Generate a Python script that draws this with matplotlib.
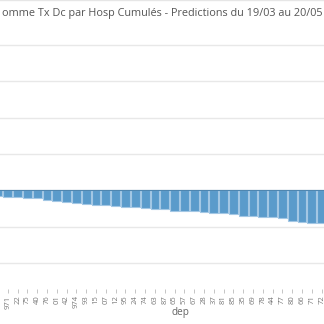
import matplotlib
matplotlib.use("Agg")
import matplotlib.pyplot as plt

# departements shown (chart is scrolled, first and last are cut)
deps = ["56", "971", "22", "75", "40", "76", "01", "42", "974", "93", "15", "07",
        "12", "95", "24", "74", "63", "87", "65", "57", "67", "28", "37", "81",
        "85", "35", "69", "78", "44", "77", "80", "66", "71", "72"]
values = [-0.014, -0.018, -0.018, -0.020, -0.021, -0.027, -0.030, -0.032, -0.035,
          -0.038, -0.040, -0.041, -0.043, -0.045, -0.046, -0.049, -0.051, -0.051,
          -0.055, -0.057, -0.057, -0.058, -0.062, -0.062, -0.065, -0.070, -0.070,
          -0.074, -0.074, -0.075, -0.083, -0.085, -0.088, -0.088]
grid_ticks = [-0.2, -0.1, 0.0, 0.1, 0.2, 0.3, 0.4]

title = "omme Tx Dc par Hosp Cumulés - Predictions du 19/03 au 20/05"

fig = plt.figure(figsize=(3.24, 3.24), dpi=100)
# axes goes past the figure edges: the visual is scrolled
ax = fig.add_axes([-0.0365, 0.108, 1.0747, 0.777])

x = list(range(len(deps)))
ax.bar(x, values, width=0.9, color="#5a9bcb", edgecolor="#a3c7e4", linewidth=0.8, zorder=3)
ax.axhline(0, color="#4f86b0", linewidth=0.8, zorder=4)

ax.set_xlim(-1, 34.5)
ax.set_ylim(-0.27, 0.42)
ax.set_yticks(grid_ticks)
ax.yaxis.grid(True, color="#e8e8e8", linewidth=1.0, zorder=0)
ax.tick_params(axis="y", left=False, labelleft=False)

ax.set_xticks(x)
ax.set_xticklabels(deps, rotation=90, fontsize=5.5, color="#777777", family="Open Sans")
ax.tick_params(axis="x", length=3, width=0.6, color="#bbbbbb", pad=1.5)

for s in ax.spines.values():
    s.set_visible(False)

fig.text(0.556, 0.0345, "dep", ha="center", va="center", fontsize=7.2,
         color="#666666", family="Open Sans")
fig.text(0.5, 0.958, title, ha="center", va="center", fontsize=7.85,
         color="#555555", family="Open Sans")
fig.add_artist(plt.Line2D([0, 1], [0.999, 0.999], color="#e6e6e6", linewidth=1))

fig.savefig("out.png", dpi=100, facecolor="white")
